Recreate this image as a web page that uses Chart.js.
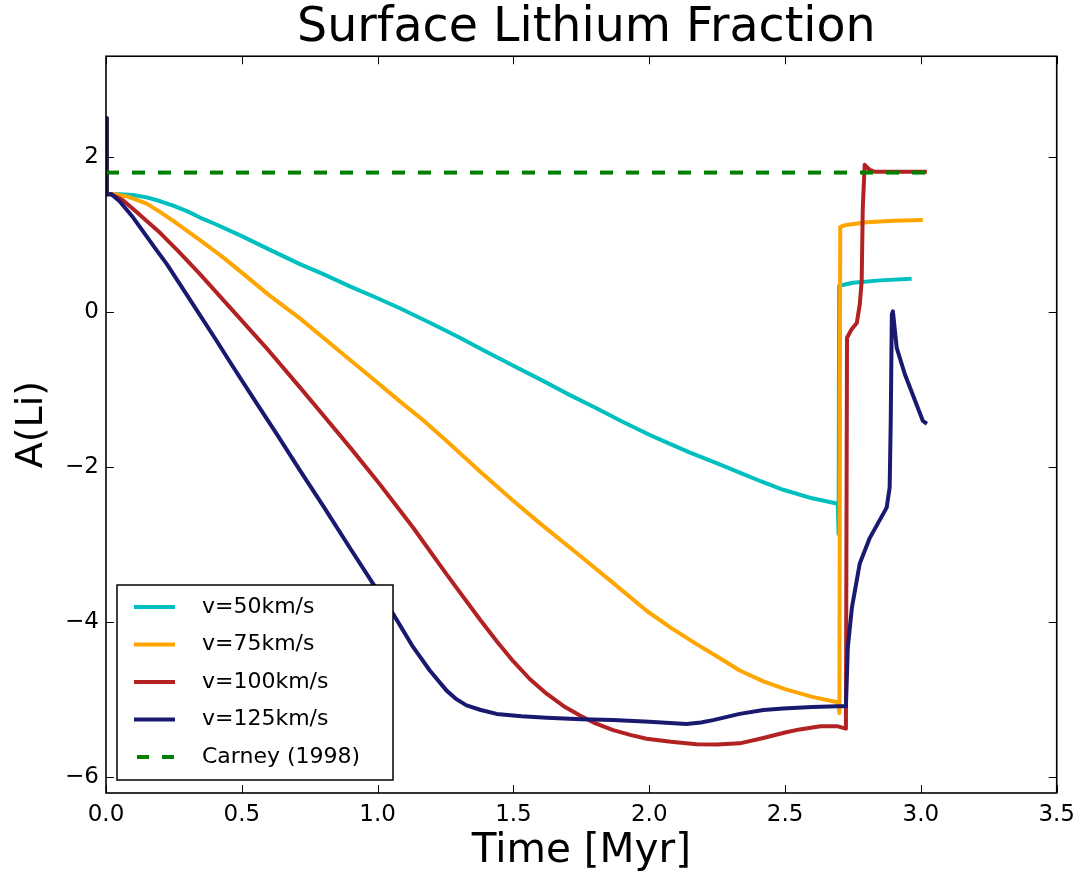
<!DOCTYPE html>
<html>
<head>
<meta charset="utf-8">
<script src="https://cdn.jsdelivr.net/npm/chart.js@4.4.0/dist/chart.umd.min.js"></script>
<style>
  body { margin: 0; background: #fff; }
  canvas { display: block; }
</style>
</head>
<body>
<canvas id="lithiumChart" width="1083" height="877"></canvas>
<script>
const seriesLabels = ["v=50km/s", "v=75km/s", "v=100km/s", "v=125km/s", "Carney (1998)"];
const seriesColors = ["#00bfbf", "#ffa500", "#b22222", "#191970", "#008000"];

// time [Myr] and A(Li)
const t50 = [0, 0.003, 0.05, 0.1, 0.15, 0.2, 0.25, 0.3, 0.346, 0.4, 0.5, 0.6, 0.714, 0.8, 0.9, 1.0, 1.082, 1.2, 1.303, 1.4, 1.5, 1.6, 1.697, 1.8, 1.9, 2.0, 2.051, 2.15, 2.25, 2.333, 2.41, 2.493, 2.6, 2.694, 2.697, 2.699, 2.75, 2.85, 2.966];
const a50 = [2.5, 1.52, 1.52, 1.51, 1.48, 1.43, 1.37, 1.30, 1.22, 1.14, 0.98, 0.81, 0.62, 0.49, 0.33, 0.18, 0.05, -0.15, -0.33, -0.51, -0.69, -0.87, -1.05, -1.23, -1.41, -1.58, -1.66, -1.81, -1.95, -2.07, -2.18, -2.29, -2.40, -2.47, -2.86, 0.34, 0.38, 0.41, 0.43];

const t75 = [0, 0.003, 0.03, 0.08, 0.15, 0.2, 0.25, 0.346, 0.43, 0.5, 0.6, 0.714, 0.8, 0.9, 1.0, 1.082, 1.17, 1.254, 1.376, 1.499, 1.6, 1.745, 1.87, 1.99, 2.08, 2.174, 2.25, 2.333, 2.42, 2.5, 2.6, 2.694, 2.70, 2.703, 2.72, 2.8, 2.9, 3.007];
const a75 = [2.5, 1.52, 1.52, 1.49, 1.40, 1.29, 1.17, 0.93, 0.71, 0.51, 0.22, -0.08, -0.33, -0.62, -0.91, -1.15, -1.40, -1.66, -2.05, -2.43, -2.73, -3.14, -3.50, -3.85, -4.07, -4.28, -4.44, -4.62, -4.76, -4.86, -4.96, -5.03, -5.17, 1.10, 1.12, 1.16, 1.18, 1.19];

const t100 = [0, 0.003, 0.02, 0.06, 0.1, 0.2, 0.265, 0.346, 0.5, 0.6, 0.714, 0.8, 0.9, 1.008, 1.131, 1.254, 1.376, 1.44, 1.499, 1.56, 1.622, 1.685, 1.745, 1.8, 1.867, 1.93, 1.99, 2.08, 2.174, 2.25, 2.333, 2.42, 2.5, 2.554, 2.63, 2.694, 2.724, 2.728, 2.745, 2.764, 2.775, 2.782, 2.786, 2.793, 2.81, 2.83, 3.022];
const a100 = [2.5, 1.52, 1.52, 1.45, 1.33, 1.02, 0.79, 0.49, -0.11, -0.50, -0.97, -1.33, -1.75, -2.22, -2.78, -3.38, -3.96, -4.25, -4.50, -4.73, -4.92, -5.08, -5.20, -5.30, -5.39, -5.45, -5.50, -5.54, -5.57, -5.575, -5.56, -5.49, -5.42, -5.38, -5.34, -5.34, -5.37, -0.33, -0.22, -0.14, 0.10, 0.40, 1.34, 1.90, 1.84, 1.81, 1.81];

const t125 = [0, 0.003, 0.02, 0.05, 0.1, 0.188, 0.224, 0.3, 0.4, 0.467, 0.55, 0.63, 0.714, 0.8, 0.9, 0.983, 1.057, 1.131, 1.192, 1.254, 1.29, 1.327, 1.38, 1.438, 1.53, 1.622, 1.75, 1.867, 2.0, 2.137, 2.19, 2.235, 2.333, 2.42, 2.493, 2.6, 2.694, 2.724, 2.731, 2.746, 2.775, 2.812, 2.874, 2.885, 2.889, 2.893, 2.897, 2.911, 2.941, 3.007, 3.022];
const a125 = [2.5, 1.52, 1.52, 1.43, 1.22, 0.79, 0.62, 0.21, -0.33, -0.70, -1.15, -1.58, -2.04, -2.50, -3.05, -3.50, -3.89, -4.32, -4.62, -4.88, -4.99, -5.07, -5.13, -5.18, -5.21, -5.23, -5.25, -5.26, -5.28, -5.31, -5.29, -5.26, -5.18, -5.13, -5.11, -5.09, -5.08, -5.08, -4.32, -3.81, -3.24, -2.91, -2.52, -2.26, -1.40, -0.03, 0.01, -0.46, -0.80, -1.40, -1.44];

const tCarney = [0, 3.022];
const aCarney = [1.8, 1.8];

const xTicks = [0, 0.5, 1.0, 1.5, 2.0, 2.5, 3.0, 3.5];
const yTicks = [-6, -4, -2, 0, 2];

const FONT = "DejaVu Sans";

function toPoints(ts, as) {
  return ts.map((t, i) => ({ x: t, y: as[i] }));
}

const allT = [t50, t75, t100, t125, tCarney];
const allA = [a50, a75, a100, a125, aCarney];

const datasets = seriesLabels.map((label, i) => ({
  label: label,
  data: toPoints(allT[i], allA[i]),
  borderColor: seriesColors[i],
  borderWidth: 4,
  borderDash: i === 4 ? [13, 13] : [],
  borderJoinStyle: "round",
  pointRadius: 0,
  tension: 0,
  order: 4 - i, // later series on top, like the original
}));

// centre the title over the plot area instead of the whole canvas
const titleOverPlot = {
  id: "titleOverPlot",
  afterLayout(chart) {
    if (chart.titleBlock) {
      chart.titleBlock.left = chart.chartArea.left + 5;
      chart.titleBlock.right = chart.chartArea.right + 5;
    }
  },
};

// frame and inward ticks on all four sides
const framePlugin = {
  id: "frame",
  afterDatasetsDraw(chart) {
    const { ctx, chartArea: a, scales } = chart;
    ctx.save();
    ctx.strokeStyle = "#000";
    ctx.lineWidth = 1;
    ctx.beginPath();
    xTicks.forEach((v) => {
      const px = Math.round(scales.x.getPixelForValue(v)) + 0.5;
      ctx.moveTo(px, a.bottom); ctx.lineTo(px, a.bottom - 8);
      ctx.moveTo(px, a.top); ctx.lineTo(px, a.top + 8);
    });
    yTicks.forEach((v) => {
      const py = Math.round(scales.y.getPixelForValue(v)) + 0.5;
      ctx.moveTo(a.left, py); ctx.lineTo(a.left + 8, py);
      ctx.moveTo(a.right, py); ctx.lineTo(a.right - 8, py);
    });
    ctx.stroke();
    ctx.lineWidth = 1.6;
    ctx.strokeRect(a.left, a.top, a.right - a.left, a.bottom - a.top);
    ctx.restore();
  },
};

// boxed legend in the lower left of the plot
const boxLegendPlugin = {
  id: "boxLegend",
  afterDraw(chart) {
    const { ctx, chartArea: a } = chart;
    const boxW = 276, rowH = 37.5, boxH = 195;
    const x0 = a.left + 11, y0 = a.bottom - 13 - boxH;
    ctx.save();
    ctx.fillStyle = "#fff";
    ctx.fillRect(x0, y0, boxW, boxH);
    ctx.strokeStyle = "#000";
    ctx.lineWidth = 1.5;
    ctx.strokeRect(x0, y0, boxW, boxH);
    ctx.font = "22px '" + FONT + "'";
    ctx.textBaseline = "middle";
    chart.data.datasets.forEach((ds, i) => {
      const y = y0 + 22 + i * rowH;
      ctx.strokeStyle = ds.borderColor;
      ctx.lineWidth = 4;
      ctx.setLineDash(ds.borderDash.length ? [12, 13] : []);
      ctx.beginPath();
      ctx.moveTo(x0 + 17 + (ds.borderDash.length ? 3 : 0), y);
      ctx.lineTo(x0 + 58, y);
      ctx.stroke();
      ctx.setLineDash([]);
      ctx.fillStyle = "#000";
      ctx.fillText(ds.label, x0 + 85, y);
    });
    ctx.restore();
  },
};

new Chart(document.getElementById("lithiumChart"), {
  type: "line",
  data: { datasets: datasets },
  plugins: [titleOverPlot, framePlugin, boxLegendPlugin],
  options: {
    responsive: false,
    animation: false,
    layout: { padding: { left: 0, right: 26, top: 0, bottom: 0 } },
    plugins: {
      legend: { display: false },
      tooltip: { enabled: false },
      title: {
        display: true,
        text: "Surface Lithium Fraction",
        color: "#000",
        font: { family: FONT, size: 47.5, weight: "normal", lineHeight: 1.1 },
        padding: { top: 3, bottom: 1 },
      },
    },
    scales: {
      x: {
        type: "linear",
        min: 0,
        max: 3.5,
        afterFit: (axis) => { axis.height = 84; },
        afterBuildTicks: (axis) => { axis.ticks = xTicks.map((v) => ({ value: v })); },
        grid: { display: false, drawTicks: false },
        border: { display: false },
        ticks: {
          color: "#000",
          padding: 8,
          maxRotation: 0,
          autoSkip: false,
          font: { family: FONT, size: 23 },
          callback: (v) => v.toFixed(1),
        },
        title: {
          display: true,
          text: "Time [Myr]",
          color: "#000",
          font: { family: FONT, size: 40.5 },
          padding: { top: 0, bottom: 1 },
        },
      },
      y: {
        min: -6.2,
        max: 3.3,
        afterFit: (axis) => { axis.width = 106; },
        afterBuildTicks: (axis) => { axis.ticks = yTicks.map((v) => ({ value: v })); },
        grid: { display: false, drawTicks: false },
        border: { display: false },
        ticks: {
          color: "#000",
          padding: 7,
          font: { family: FONT, size: 23 },
          callback: (v) => (v < 0 ? "\u2212" + Math.abs(v) : String(v)),
        },
        title: {
          display: true,
          text: "A(Li)",
          color: "#000",
          font: { family: FONT, size: 38 },
          padding: { top: 9, bottom: 0 },
        },
      },
    },
  },
});
</script>
</body>
</html>
